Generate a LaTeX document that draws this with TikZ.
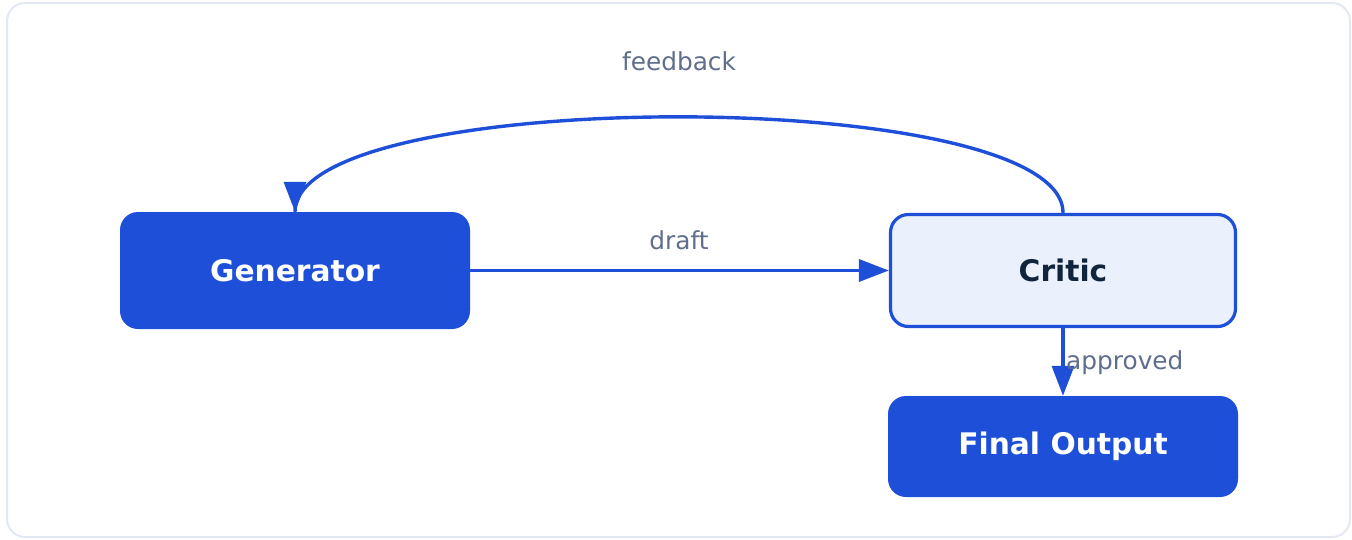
\documentclass[tikz,border=0pt]{standalone}
\usepackage{fontspec}
\setmainfont{DejaVu Sans}
\usetikzlibrary{arrows.meta}
\definecolor{brand}{HTML}{1E4FD8}
\definecolor{paleblue}{HTML}{EAF0FC}
\definecolor{ink}{HTML}{10243E}
\definecolor{muted}{HTML}{5F6F8B}
\definecolor{frame}{HTML}{E3E9F4}
\tikzset{
  solidbox/.style={draw=none, fill=brand, rounded corners=18pt, text=white,
    font=\fontsize{29.7}{35}\selectfont\bfseries, inner sep=0pt},
  openbox/.style={draw=brand, line width=3.2pt, fill=paleblue, rounded corners=18pt, text=ink,
    font=\fontsize{29.7}{35}\selectfont\bfseries, inner sep=0pt},
  wire/.style={draw=brand, line width=3.4pt},
  flow/.style={wire, -{Triangle[length=30pt,width=22pt]}},
  edgelabel/.style={text=muted, font=\fontsize{24.8}{30}\selectfont, inner sep=0pt}
}
\begin{document}
\begin{tikzpicture}[x=1pt, y=-1pt]
  \useasboundingbox (0,0) rectangle (1352,539);
  % outer card
  \draw[frame, line width=2pt, rounded corners=18pt, fill=white] (7,3) rectangle (1350,537);

  % boxes
  \node[solidbox, minimum width=350pt, minimum height=117pt] (gen) at (295,270.5) {Generator};
  \node[openbox, minimum width=345pt, minimum height=112pt] (critic) at (1063,270.5) {Critic};
  \node[solidbox, minimum width=350pt, minimum height=101pt] (final) at (1063,446.5) {Final Output};

  % connectors
  \draw[flow] (gen.east) -- (critic.west);
  \draw[flow] (critic.south) -- (final.north);
  % feedback loop: full curve, arrowhead laid over its end
  \draw[wire] (critic.north) .. controls (1063,85) and (295,85) .. (gen.north);
  \coordinate (fbtip) at ([yshift=30pt]gen.north);
  \draw[flow] (fbtip) -- (gen.north);

  % labels
  \node[edgelabel] (draftlbl) at (679,240) {draft};
  \node[edgelabel] (fblbl) at (679,61) {feedback};
  \node[edgelabel, anchor=west] (oklbl) at (1066,363) {approved};
\end{tikzpicture}
\end{document}
